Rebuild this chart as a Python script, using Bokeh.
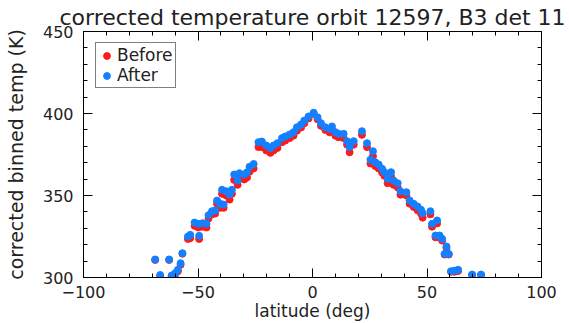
from bokeh.plotting import figure
from bokeh.models import Range1d, LinearAxis, FixedTicker, Legend
from bokeh.embed import file_html
from bokeh.resources import INLINE

title_text = "corrected temperature orbit 12597, B3 det 11"
x_label = "latitude (deg)"
y_label = "corrected binned temp (K)"

latitude = [-68.7, -66.5, -62.6, -61.5, -60.0, -58.8, -57.6, -56.8, -54.4, -53.4,
            -51.5, -49.8, -49.5, -48.0, -46.3, -45.4, -43.9, -42.5, -41.7, -40.3,
            -38.8, -39.5, -37.7, -36.2, -35.2, -34.2, -32.7, -31.9, -29.8, -28.6,
            -27.5, -25.7, -23.6, -22.1, -20.2, -18.4, -17.0, -15.3, -13.3, -11.9,
            -10.0, -8.3, -6.8, -5.0, -3.6, -1.7, 0.5, 2.2, 3.7, 5.6,
            7.5, 8.5, 10.0, 11.4, 13.6, 15.1, 16.2, 18.0, 21.6, 23.8,
            26.4, 25.3, 27.4, 28.9, 30.4, 31.4, 34.3, 32.8, 35.4, 37.2,
            38.4, 41.0, 42.4, 44.2, 45.9, 47.4, 48.1, 51.5, 52.2, 54.4,
            53.7, 55.5, 56.6, 58.5, 57.7, 59.5, 60.5, 62.0, 63.6, 69.7,
            73.6]

temp_after = [311.0, 301.5, 311.0, 301.2, 302.6, 304.7, 308.7, 314.8, 325.0, 326.0,
              333.5, 332.7, 325.4, 333.1, 332.7, 338.0, 340.4, 340.9, 346.9, 344.9,
              344.5, 353.5, 352.6, 350.6, 353.5, 362.8, 359.1, 363.6, 362.8, 364.2,
              367.5, 369.2, 382.5, 382.9, 380.5, 378.8, 380.5, 381.9, 385.0, 386.0,
              387.2, 388.6, 391.6, 393.3, 395.7, 398.2, 400.5, 397.7, 394.1, 391.6,
              390.6, 392.1, 388.6, 387.6, 387.6, 383.1, 379.5, 383.1, 389.2, 381.9,
              377.0, 371.8, 370.3, 368.9, 366.3, 364.2, 364.2, 360.2, 359.1, 357.5,
              352.6, 352.0, 347.0, 344.9, 343.3, 341.3, 339.2, 340.4, 332.7, 334.8,
              325.6, 325.6, 323.6, 318.9, 314.4, 314.4, 303.8, 304.2, 304.7, 301.8,
              301.8]

temp_before = [310.7, 301.0, 310.7, 300.8, 301.8, 303.8, 307.8, 314.5, 323.5, 324.0,
               331.5, 330.5, 323.5, 331.0, 330.5, 336.0, 338.5, 339.0, 345.0, 342.5,
               342.5, 351.0, 350.0, 347.5, 351.0, 359.5, 356.5, 360.5, 359.8, 361.0,
               364.5, 366.5, 379.5, 379.5, 377.5, 376.0, 377.5, 379.0, 382.5, 383.5,
               385.0, 386.5, 389.5, 391.5, 394.0, 397.0, 399.8, 396.5, 392.5, 390.0,
               388.5, 390.0, 386.5, 385.5, 385.0, 381.0, 376.4, 381.0, 387.0, 379.5,
               374.0, 369.5, 368.0, 366.5, 364.0, 362.0, 361.5, 357.5, 356.5, 355.0,
               350.5, 350.0, 345.0, 343.0, 341.0, 339.0, 336.5, 338.5, 331.0, 333.0,
               324.5, 324.5, 322.5, 318.0, 314.0, 314.0, 303.5, 303.5, 304.0, 301.5,
               301.5]

x_major = [-100, -50, 0, 50, 100]
x_minor = list(range(-100, 101, 10))
y_major = [300, 350, 400, 450]
y_minor = list(range(300, 451, 10))

FONT = "DejaVu Sans"
TXT = "#222222"
RED = "#FF1A1A"
BLUE = "#1480FF"

p = figure(width=569, height=323, output_backend="svg", toolbar_location=None,
           x_range=Range1d(-100, 100), y_range=Range1d(300, 450),
           x_axis_location=None, y_axis_location=None,
           min_border_left=83, min_border_right=28, min_border_top=31, min_border_bottom=46)
p.title.text = title_text
p.title.text_font = FONT
p.title.text_font_size = "22px"
p.title.text_font_style = "normal"
p.title.text_color = TXT
p.title.align = "center"
p.title.standoff = 4
p.xgrid.visible = False
p.ygrid.visible = False
p.outline_line_color = "black"
p.background_fill_color = "white"
p.border_fill_color = "white"


def style_axis(ax):
    ax.major_tick_out = 0
    ax.minor_tick_out = 0
    ax.axis_line_color = "black"
    ax.major_tick_line_color = "black"
    ax.minor_tick_line_color = "black"
    ax.major_label_text_font = FONT
    ax.major_label_text_color = TXT
    ax.axis_label_text_font = FONT
    ax.axis_label_text_color = TXT
    ax.axis_label_text_font_style = "normal"
    return ax


def labelled_axis(label, major, minor):
    ax = LinearAxis(ticker=FixedTicker(ticks=major, minor_ticks=minor), axis_label=label)
    style_axis(ax)
    ax.major_tick_in = 9
    ax.minor_tick_in = 4
    ax.major_label_text_font_size = "16px"
    return ax


def mirror_axis(positions, length):
    # only minor ticks: no labels drawn on the mirrored sides
    ax = LinearAxis(ticker=FixedTicker(ticks=[], minor_ticks=positions))
    style_axis(ax)
    ax.minor_tick_in = length
    ax.major_label_standoff = 0
    ax.axis_label_standoff = 0
    return ax


xb = labelled_axis(x_label, x_major, x_minor)
xb.axis_label_text_font_size = "17px"
xb.major_label_standoff = 8
xb.axis_label_standoff = 0
p.add_layout(xb, "below")

yl = labelled_axis(y_label, y_major, y_minor)
yl.axis_label_text_font_size = "19px"
yl.major_label_standoff = 10
yl.axis_label_standoff = 13
p.add_layout(yl, "left")

p.add_layout(mirror_axis(x_minor, 4), "above")
p.add_layout(mirror_axis(x_major, 9), "above")
p.add_layout(mirror_axis(y_minor, 4), "right")
p.add_layout(mirror_axis(y_major, 9), "right")

r_before = p.scatter(latitude, temp_before, size=7, color=RED)
r_after = p.scatter(latitude, temp_after, size=7, color=BLUE)

legend = Legend(items=[("Before", [r_before]), ("After", [r_after])],
                location=(12, 189))
legend.label_text_font = FONT
legend.label_text_font_size = "17px"
legend.label_text_color = TXT
legend.border_line_color = "black"
legend.border_line_width = 1
legend.padding = 2
legend.spacing = 0
legend.glyph_width = 17
legend.glyph_height = 19
legend.label_height = 18
legend.label_standoff = 2
legend.margin = 0
legend.background_fill_alpha = 1.0
p.add_layout(legend)

open("out.html", "w").write(file_html(p, INLINE))
